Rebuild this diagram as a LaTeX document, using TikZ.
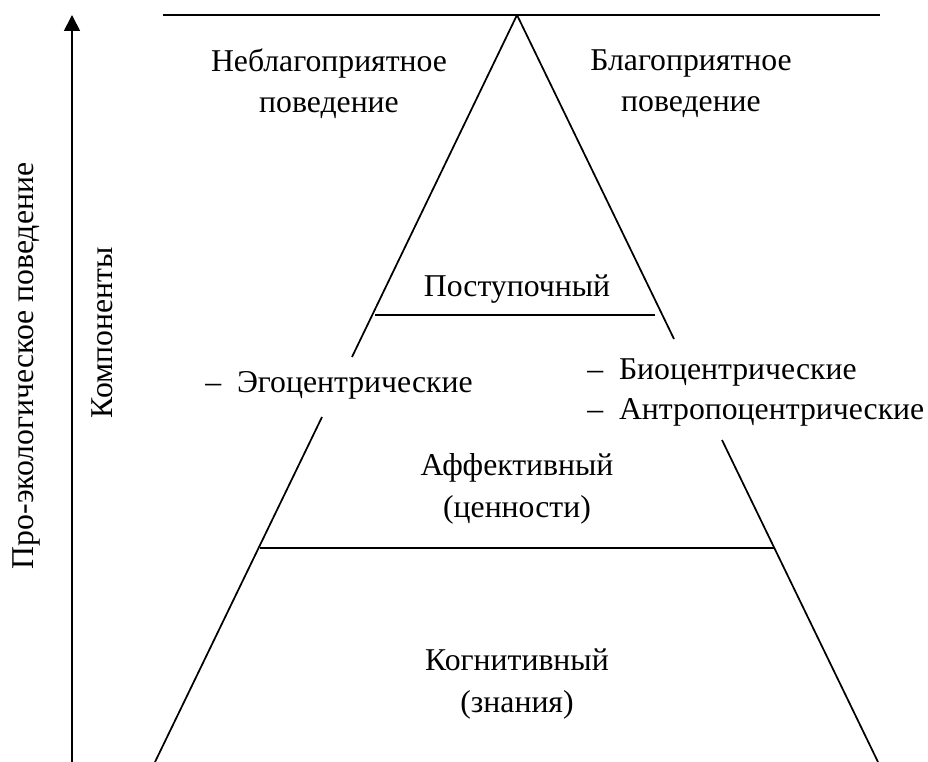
\documentclass[tikz,border=0pt]{standalone}
\usepackage{fontspec}
\setmainfont{Liberation Serif}
\usetikzlibrary{arrows.meta}

\begin{document}
\begin{tikzpicture}[x=0.75pt,y=-0.75pt]
    \tikzset{lbl/.style={inner sep=0pt, align=center, font=\fontsize{23.8}{31}\selectfont},
             edge/.style={line width=1.3pt}};
\useasboundingbox (0,0) rectangle (928,762);
%%
  \coordinate (top1) at (163,15);
  \coordinate (top2) at (880,15);
  \coordinate (apex) at (517,15);
  \coordinate (l1) at (352,357);
  \coordinate (l2) at (322,417);
  \coordinate (l3) at (155,762);
  \coordinate (r1) at (674,339);
  \coordinate (r2) at (722,440);
  \coordinate (r3) at (878,762);
  \coordinate (p1) at (375,315);
  \coordinate (p2) at (655,315);
  \coordinate (a1) at (260,548);
  \coordinate (a2) at (775,548);
  \coordinate (ax1) at (72,762);
  \coordinate (ax2) at (72,15);

  \node (neg) at (329,84) [lbl] {Неблагоприятное\\поведение};
  \node (pos) at (691,84) [lbl] {Благоприятное\\поведение};
  \node (act) at (517,297) [lbl, anchor=base] {Поступочный};
  \node (ego) at (205,393) [lbl, anchor=base west] {–\hspace{0.5em}Эгоцентрические};
  \node (bio) at (587,380) [lbl, anchor=base west] {–\hspace{0.5em}Биоцентрические};
  \node (ant) at (587,420) [lbl, anchor=base west] {–\hspace{0.5em}Антропоцентрические};
  \node (aff) at (517,489) [lbl] {Аффективный\\(ценности)};
  \node (cog) at (517,684) [lbl] {Когнитивный\\(знания)};
  \node (eco) at (26,366) [lbl, rotate=90] {Про-экологическое поведение};
  \node (comp) at (102,333) [lbl, rotate=90] {Компоненты};

  \draw [edge] (top1) -- (top2);
  \draw [edge] (apex) -- (l1);
  \draw [edge] (l2) -- (l3);
  \draw [edge] (apex) -- (r1);
  \draw [edge] (r2) -- (r3);
  \draw [edge] (p1) -- (p2);
  \draw [edge] (a1) -- (a2);
  \draw [edge, -{Triangle[length=12pt, width=12pt]}] (ax1) -- (ax2);
  %
\end{tikzpicture}
\end{document}
